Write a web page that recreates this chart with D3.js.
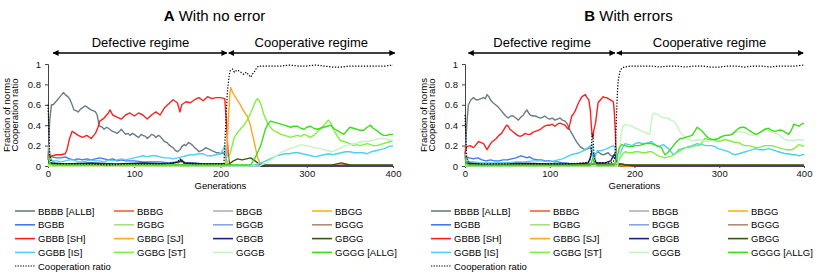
<!DOCTYPE html>
<html>
<head>
<meta charset="utf-8">
<script src="https://cdn.jsdelivr.net/npm/d3@7"></script>
<style>
  body { margin: 0; background: #fff; }
  svg { font-family: "Liberation Sans", Arial, sans-serif; }
</style>
</head>
<body>
<svg id="chart" width="830" height="277"></svg>
<script>
// norm names (legend order) and x ticks
const norms = ['BBBB [ALLB]', 'BBBG', 'BBGB', 'BBGG', 'BGBB', 'BGBG', 'BGGB', 'BGGG',
               'GBBB [SH]', 'GBBG [SJ]', 'GBGB', 'GBGG', 'GGBB [IS]', 'GGBG [ST]', 'GGGB', 'GGGG [ALLG]'];
const xTicks = [0, 100, 200, 300, 400];
const yTicks = [0, 0.2, 0.4, 0.6, 0.8, 1];

// --- Panel A: with no error  ([generation, fraction]) ---
const A_ALLB = [[0,.06],[2,.45],[4,.6],[6,.6],[10,.64],[13,.67],[16,.7],[18,.72],[20,.7],[23,.68],[25,.66],[28,.6],[30,.55],[33,.54],[35,.53],[38,.56],[40,.57],[43,.59],[45,.58],[48,.56],[50,.55],[53,.54],[55,.53],[57,.5],[59,.41],[60,.39],[63,.38],[65,.36],[68,.38],[70,.37],[73,.35],[75,.34],[78,.33],[80,.32],[83,.34],[85,.36],[88,.33],[90,.31],[93,.32],[95,.3],[98,.32],[100,.31],[103,.29],[105,.28],[108,.31],[110,.3],[113,.29],[115,.27],[118,.29],[120,.31],[123,.3],[125,.28],[128,.3],[130,.29],[133,.26],[135,.24],[138,.23],[140,.21],[143,.19],[145,.18],[148,.15],[150,.14],[153,.16],[155,.19],[158,.21],[160,.2],[163,.23],[165,.22],[168,.2],[170,.18],[173,.16],[175,.14],[178,.15],[180,.16],[183,.18],[185,.17],[188,.16],[190,.15],[193,.14],[195,.13],[198,.13],[200,.12],[203,.13],[205,.12],[207,.05],[209,.01],[212,0],[400,0]];
const A_BBBG = [[0,.02],[10,.005],[330,.005],[345,.015],[355,.005],[400,.005]];
const A_BBGB = [[0,.2],[2,.14],[4,.06],[8,.03],[20,.02],[200,.01],[210,0],[400,0]];
const A_BBGG = [[0,.02],[20,.01],[150,.02],[155,.05],[158,.02],[200,.01],[210,0],[400,0]];
const A_BGBB = [[0,.1],[5,.09],[10,.08],[15,.08],[20,.09],[25,.07],[30,.06],[35,.07],[40,.06],[45,.07],[50,.06],[55,.07],[60,.08],[65,.07],[70,.06],[75,.07],[80,.05],[85,.06],[90,.05],[100,.05],[110,.04],[120,.04],[130,.04],[140,.03],[150,.04],[155,.05],[160,.03],[170,.03],[180,.02],[205,.02],[210,0],[400,0]];
const A_BGBG = [[0,.02],[10,.005],[400,.005]];
const A_BGGB = [[0,.03],[10,.01],[205,.01],[210,0],[400,0]];
const A_BGGG = [[0,.01],[10,0],[400,0]];
const A_SH = [[0,.09],[5,.1],[10,.11],[15,.11],[20,.12],[22,.16],[25,.27],[28,.34],[30,.33],[35,.3],[40,.28],[45,.3],[50,.27],[55,.32],[58,.38],[60,.44],[65,.47],[70,.52],[72,.55],[75,.5],[80,.48],[85,.46],[90,.5],[95,.52],[100,.49],[105,.52],[110,.5],[115,.46],[120,.5],[125,.53],[130,.5],[135,.57],[140,.61],[145,.65],[150,.62],[153,.53],[155,.6],[160,.63],[165,.62],[170,.65],[175,.67],[180,.64],[185,.68],[190,.66],[195,.67],[200,.67],[205,.66],[207,.4],[209,.1],[211,.01],[215,0],[400,0]];
const A_SJ = [[0,0],[205,0],[207,.1],[209,.45],[211,.72],[212,.77],[214,.72],[217,.68],[220,.64],[223,.6],[226,.55],[229,.51],[231,.49],[234,.42],[237,.31],[239,.24],[241,.16],[243,.08],[246,.03],[250,.01],[255,0],[400,0]];
const A_GBGB = [[0,.03],[20,.02],[50,.03],[80,.02],[110,.03],[140,.02],[152,.04],[155,.06],[158,.03],[180,.02],[205,.02],[210,0],[400,0]];
const A_GBGG = [[0,.02],[10,.01],[205,0],[210,.02],[215,.05],[220,.07],[225,.06],[230,.07],[235,.08],[240,.05],[245,.02],[250,.01],[330,.01],[340,.03],[345,.02],[350,.01],[400,.01]];
const A_IS = [[0,.08],[5,.05],[10,.05],[15,.04],[20,.05],[25,.06],[30,.06],[35,.04],[40,.04],[45,.05],[50,.06],[55,.05],[60,.05],[65,.04],[70,.06],[75,.05],[80,.06],[85,.07],[90,.06],[95,.07],[100,.08],[105,.09],[110,.1],[115,.09],[120,.1],[125,.1],[130,.09],[135,.08],[140,.08],[145,.07],[150,.08],[155,.09],[160,.1],[165,.11],[170,.11],[175,.12],[180,.12],[185,.1],[190,.1],[195,.11],[200,.12],[203,.16],[205,.2],[207,.05],[210,0],[230,0],[240,.01],[250,.04],[255,.06],[260,.08],[265,.1],[270,.11],[275,.12],[280,.12],[285,.13],[290,.13],[295,.12],[300,.11],[305,.1],[310,.09],[315,.1],[320,.11],[325,.12],[330,.11],[335,.12],[340,.13],[345,.14],[350,.14],[355,.13],[360,.13],[365,.13],[370,.12],[375,.14],[380,.15],[385,.16],[390,.17],[395,.19],[400,.2]];
const A_ST = [[0,.02],[5,.01],[205,.01],[209,.05],[212,.15],[216,.28],[220,.33],[223,.36],[227,.4],[231,.45],[235,.52],[239,.6],[241,.64],[243,.66],[245,.64],[247,.6],[250,.51],[254,.43],[257,.39],[260,.36],[263,.34],[266,.33],[270,.31],[274,.3],[278,.29],[281,.28],[285,.29],[289,.3],[293,.29],[297,.31],[300,.3],[304,.28],[308,.3],[312,.33],[316,.37],[320,.4],[325,.45],[328,.42],[331,.36],[335,.3],[339,.25],[343,.24],[347,.23],[350,.22],[354,.2],[358,.21],[362,.2],[366,.21],[370,.22],[374,.21],[377,.2],[381,.2],[385,.21],[389,.22],[393,.23],[397,.24],[400,.25]];
const A_GGGB = [[0,0],[245,0],[250,.02],[255,.04],[260,.07],[265,.1],[270,.13],[275,.15],[280,.17],[285,.18],[290,.2],[295,.21],[300,.2],[305,.19],[310,.18],[315,.17],[320,.16],[325,.15],[330,.14],[335,.16],[340,.18],[345,.2],[350,.21],[355,.22],[360,.23],[365,.24],[370,.24],[375,.25],[380,.26],[385,.27],[390,.27],[395,.26],[400,.25]];
const A_ALLG = [[0,.1],[2,.03],[5,.01],[235,.01],[240,.08],[244,.15],[247,.21],[250,.3],[252,.36],[255,.41],[258,.44],[262,.43],[266,.42],[270,.41],[274,.4],[278,.39],[281,.38],[285,.39],[289,.39],[293,.37],[297,.36],[300,.38],[304,.39],[308,.37],[312,.36],[316,.37],[320,.38],[324,.39],[328,.4],[331,.37],[335,.35],[339,.33],[343,.31],[347,.35],[350,.38],[354,.37],[358,.36],[362,.35],[366,.35],[370,.38],[374,.4],[377,.37],[381,.35],[385,.32],[389,.3],[393,.3],[396,.31],[400,.31]];
const A_coop = [[0,.6],[1,.35],[2,.1],[4,.03],[10,.02],[30,.02],[50,.02],[70,.01],[90,.02],[110,.02],[130,.02],[145,.03],[150,.04],[153,.07],[156,.03],[170,.02],[190,.02],[204,.02],[206,.4],[208,.73],[210,.88],[211,.93],[214,.95],[216,.92],[219,.94],[222,.93],[225,.91],[227,.9],[230,.92],[233,.89],[235,.87],[237,.9],[239,.92],[241,.95],[244,.98],[250,.98],[260,.98],[270,.98],[280,.99],[290,.98],[300,.98],[310,.99],[320,.98],[330,.97],[340,.97],[350,.98],[360,.98],[370,.98],[380,.98],[390,.98],[400,.99]];

// --- Panel B: with errors ---
const B_ALLB = [[0,.08],[2,.4],[4,.6],[7,.65],[10,.67],[13,.65],[16,.65],[19,.66],[22,.67],[24,.66],[26,.7],[28,.68],[30,.65],[33,.62],[36,.6],[39,.58],[42,.55],[45,.52],[48,.49],[51,.47],[54,.49],[57,.49],[60,.47],[63,.45],[66,.48],[69,.5],[71,.53],[73,.55],[75,.52],[77,.5],[80,.49],[83,.49],[86,.48],[89,.47],[92,.48],[94,.49],[97,.47],[100,.46],[103,.47],[106,.45],[109,.46],[112,.47],[115,.45],[118,.44],[120,.42],[122,.39],[124,.35],[126,.32],[128,.29],[130,.26],[133,.22],[136,.19],[139,.17],[142,.16],[145,.17],[148,.18],[150,.14],[152,.11],[154,.12],[157,.14],[160,.12],[163,.11],[166,.12],[169,.13],[171,.11],[173,.1],[175,.09],[177,.08],[179,.04],[181,.01],[184,0],[400,0]];
const B_BBBG = [[0,.01],[400,.005]];
const B_BBGB = [[0,.12],[2,.08],[5,.04],[10,.02],[175,.01],[180,0],[400,0]];
const B_BBGG = [[0,.01],[140,.01],[150,.02],[175,.02],[180,.03],[185,.01],[400,.005]];
const B_BGBB = [[0,.09],[5,.08],[10,.07],[15,.08],[20,.06],[25,.05],[30,.06],[35,.05],[40,.05],[45,.06],[50,.06],[55,.07],[60,.08],[63,.09],[66,.1],[70,.09],[73,.08],[76,.09],[80,.07],[85,.06],[90,.06],[95,.05],[100,.05],[105,.04],[110,.04],[115,.03],[120,.03],[125,.02],[175,.02],[180,.01],[185,0],[400,0]];
const B_BGBG = [[0,.02],[10,.005],[400,.005]];
const B_BGGB = [[0,.03],[10,.01],[180,.01],[185,0],[400,0]];
const B_BGGG = [[0,.01],[10,0],[400,0]];
const B_SH = [[0,.12],[2,.19],[6,.2],[10,.18],[13,.21],[16,.24],[19,.23],[22,.22],[24,.19],[26,.16],[28,.19],[31,.23],[34,.25],[37,.27],[40,.3],[43,.32],[46,.36],[49,.4],[51,.39],[53,.36],[56,.34],[59,.32],[62,.3],[65,.29],[68,.3],[71,.32],[74,.31],[77,.31],[80,.33],[83,.34],[86,.35],[89,.36],[92,.38],[94,.39],[97,.4],[100,.4],[103,.41],[106,.39],[109,.41],[112,.42],[115,.41],[118,.4],[120,.38],[122,.36],[124,.42],[126,.49],[128,.51],[130,.54],[132,.58],[134,.62],[136,.65],[138,.68],[140,.69],[142,.7],[144,.67],[146,.65],[148,.54],[149,.4],[150,.3],[151,.28],[152,.35],[154,.42],[156,.55],[157,.62],[160,.65],[163,.68],[165,.67],[167,.67],[169,.66],[171,.65],[173,.64],[175,.63],[176,.55],[177,.4],[178,.2],[179,.08],[181,.02],[184,0],[400,0]];
const B_SJ = [[0,.01],[176,.01],[180,.03],[183,.01],[190,0],[400,0]];
const B_GBGB = [[0,.03],[20,.02],[60,.03],[100,.02],[130,.02],[145,.03],[148,.08],[150,.15],[152,.08],[155,.03],[165,.03],[172,.05],[175,.1],[177,.12],[179,.05],[182,.02],[190,.01],[200,0],[400,0]];
const B_GBGG = [[0,.01],[180,.01],[185,.02],[190,.01],[400,.01]];
const B_IS = [[0,.05],[5,.04],[10,.04],[20,.03],[30,.03],[40,.03],[50,.03],[60,.04],[70,.04],[80,.05],[90,.05],[100,.04],[105,.05],[110,.06],[115,.07],[120,.09],[125,.11],[130,.12],[135,.13],[140,.15],[145,.18],[148,.2],[150,.21],[151,.1],[152,.04],[154,.1],[156,.15],[160,.15],[165,.16],[170,.18],[175,.2],[177,.18],[179,.08],[181,.05],[183,.12],[186,.18],[189,.22],[193,.21],[197,.2],[201,.22],[205,.23],[209,.22],[213,.22],[217,.23],[220,.24],[224,.21],[228,.19],[231,.2],[234,.21],[237,.19],[240,.17],[243,.14],[246,.11],[249,.13],[252,.16],[256,.17],[260,.18],[264,.19],[268,.2],[271,.21],[274,.22],[277,.21],[280,.21],[284,.2],[287,.2],[291,.2],[295,.19],[299,.17],[303,.16],[307,.15],[311,.14],[315,.12],[319,.11],[323,.12],[327,.13],[331,.14],[335,.15],[339,.16],[343,.17],[347,.16],[350,.16],[354,.16],[358,.17],[362,.16],[366,.15],[370,.14],[374,.13],[378,.12],[382,.12],[386,.11],[390,.11],[394,.1],[398,.11],[400,.11]];
const B_ST = [[0,.02],[5,.005],[176,.005],[180,.03],[183,.08],[186,.12],[189,.14],[193,.13],[197,.13],[201,.14],[205,.14],[209,.13],[213,.13],[217,.14],[220,.14],[224,.12],[228,.1],[232,.09],[236,.08],[240,.09],[244,.1],[248,.12],[252,.14],[256,.16],[260,.18],[264,.18],[268,.19],[272,.2],[276,.2],[280,.23],[283,.27],[287,.26],[291,.26],[295,.25],[299,.24],[303,.25],[307,.26],[311,.25],[315,.24],[319,.23],[323,.23],[327,.21],[331,.2],[335,.2],[339,.19],[343,.18],[346,.18],[350,.19],[354,.2],[358,.2],[362,.2],[366,.19],[370,.18],[374,.17],[378,.16],[382,.16],[386,.16],[390,.18],[394,.21],[398,.2],[400,.19]];
const B_GGGB = [[0,0],[180,0],[182,.1],[184,.3],[186,.38],[189,.41],[193,.4],[197,.39],[201,.37],[205,.36],[209,.34],[213,.33],[216,.31],[218,.31],[221,.5],[224,.52],[228,.5],[232,.48],[236,.47],[240,.47],[243,.45],[246,.44],[250,.4],[254,.33],[257,.3],[260,.28],[264,.26],[268,.25],[272,.25],[276,.26],[280,.25],[283,.24],[287,.24],[291,.25],[295,.26],[299,.27],[303,.28],[307,.3],[311,.31],[315,.31],[319,.33],[323,.34],[327,.33],[331,.33],[335,.31],[339,.3],[343,.31],[346,.31],[350,.34],[354,.37],[358,.35],[362,.33],[366,.32],[370,.31],[374,.28],[378,.26],[382,.25],[386,.25],[390,.25],[394,.26],[398,.25],[400,.25]];
const B_ALLG = [[0,.08],[2,.02],[5,.005],[148,.005],[151,.08],[153,.02],[156,.005],[176,.005],[178,.05],[180,.1],[182,.18],[185,.21],[189,.2],[193,.19],[197,.19],[201,.2],[205,.2],[209,.21],[213,.22],[217,.22],[220,.22],[223,.21],[226,.2],[229,.19],[232,.18],[234,.14],[236,.11],[239,.13],[242,.16],[245,.19],[248,.22],[251,.25],[254,.27],[257,.27],[260,.28],[264,.29],[268,.3],[271,.34],[274,.38],[277,.36],[280,.34],[283,.31],[285,.29],[288,.27],[291,.26],[295,.26],[299,.27],[303,.29],[307,.3],[311,.3],[315,.31],[319,.34],[323,.37],[326,.38],[329,.38],[332,.37],[335,.35],[339,.33],[343,.31],[346,.32],[350,.34],[354,.36],[358,.37],[362,.35],[366,.34],[370,.35],[374,.35],[378,.33],[382,.31],[385,.35],[388,.41],[391,.4],[394,.39],[397,.41],[400,.42]];
const B_coop = [[0,.5],[1,.3],[2,.08],[4,.03],[20,.02],[40,.02],[60,.02],[80,.02],[100,.02],[120,.02],[140,.03],[147,.04],[149,.15],[150,.32],[151,.3],[152,.12],[154,.03],[170,.03],[175,.04],[177,.1],[178,.3],[179,.55],[180,.75],[181,.85],[183,.93],[185,.96],[188,.97],[195,.98],[210,.98],[220,.98],[230,.97],[240,.98],[250,.98],[260,.97],[270,.98],[280,.98],[290,.97],[300,.97],[310,.98],[320,.98],[330,.97],[340,.98],[350,.98],[360,.97],[370,.98],[380,.98],[390,.98],[400,.99]];

// regime arrows: [start, boundary, end] in generations
const regimeA = [6, 208.5, 402];
const regimeB = [4, 178, 399];

const normColors = ['#6b7c85', '#f4603a', '#a9b4b8', '#ffb11b', '#4176f5', '#a8e080', '#86a6e0', '#b58a74',
                    '#ff2020', '#ffa726', '#1a237e', '#335a10', '#4fd0f7', '#80f040', '#c5f5c0', '#3ddc1f'];

const panels = [
  { letter: 'A', title: ' With no error', left: 48, right: 393, regime: regimeA,
    series: [A_ALLB, A_BBBG, A_BBGB, A_BBGG, A_BGBB, A_BGBG, A_BGGB, A_BGGG, A_SH, A_SJ, A_GBGB, A_GBGG, A_IS, A_ST, A_GGGB, A_ALLG],
    coop: A_coop, legendX: 15 },
  { letter: 'B', title: ' With errors', left: 465, right: 804, regime: regimeB,
    series: [B_ALLB, B_BBBG, B_BBGB, B_BBGG, B_BGBB, B_BGBG, B_BGGB, B_BGGG, B_SH, B_SJ, B_GBGB, B_GBGG, B_IS, B_ST, B_GGGB, B_ALLG],
    coop: B_coop, legendX: 431 }
];

const svg = d3.select('#chart');
const plotTop = 64, plotBottom = 166;

svg.append('defs').append('marker')
  .attr('id', 'arrowhead')
  .attr('viewBox', '0 0 10 10').attr('refX', 9).attr('refY', 5)
  .attr('markerWidth', 6).attr('markerHeight', 6)
  .attr('markerUnits', 'userSpaceOnUse')
  .attr('orient', 'auto-start-reverse')
  .append('path').attr('d', 'M0,0 L10,5 L0,10 z').attr('fill', '#000');

panels.forEach(p => {
  const x = d3.scaleLinear().domain([0, 400]).range([p.left, p.right]);
  const y = d3.scaleLinear().domain([0, 1]).range([plotBottom, plotTop]);
  const g = svg.append('g');
  const mid = (p.left + p.right) / 2;

  // title
  const t = g.append('text').attr('x', mid - 6).attr('y', 21)
    .attr('text-anchor', 'middle').attr('font-size', 15);
  t.append('tspan').attr('font-weight', 'bold').text(p.letter);
  t.append('tspan').text(p.title);

  // regime arrows
  const [r0, r1, r2] = p.regime;
  [[r0, r1, 'Defective regime'], [r1, r2, 'Cooperative regime']].forEach(([a, b, lbl], i) => {
    g.append('line')
      .attr('x1', x(a) + (i ? 1 : 0)).attr('x2', x(b) - (i ? 0 : 1))
      .attr('y1', 53).attr('y2', 53)
      .attr('stroke', '#000').attr('stroke-width', 1.4)
      .attr('marker-start', 'url(#arrowhead)').attr('marker-end', 'url(#arrowhead)');
    g.append('text').attr('x', (x(a) + x(b)) / 2).attr('y', 47)
      .attr('text-anchor', 'middle').attr('font-size', 13).text(lbl);
  });

  // axes
  const yAxis = g.append('g').attr('transform', `translate(${p.left},0)`)
    .call(d3.axisLeft(y).tickValues(yTicks).tickFormat(d3.format('~g')).tickSize(3).tickPadding(4));
  const xAxis = g.append('g').attr('transform', `translate(0,${plotBottom})`)
    .call(d3.axisBottom(x).tickValues(xTicks).tickSize(2).tickPadding(2));
  [yAxis, xAxis].forEach(a => {
    a.select('.domain').attr('stroke', '#444');
    a.selectAll('.tick line').attr('stroke', '#444');
    a.selectAll('text').attr('font-size', 9.5).attr('fill', '#111')
      .attr('font-family', '"Liberation Sans", Arial, sans-serif');
  });

  g.append('text').attr('x', mid).attr('y', 189).attr('text-anchor', 'middle')
    .attr('font-size', 9.5).text('Generations');
  ['Fraction of norms', 'Cooperation ratio'].forEach((s, i) => {
    g.append('text')
      .attr('transform', `translate(${p.left - 38 + i * 8},${(plotTop + plotBottom) / 2}) rotate(-90)`)
      .attr('text-anchor', 'middle').attr('font-size', 9.5).text(s);
  });

  // lines
  const line = d3.line().x(d => x(d[0])).y(d => y(d[1]));
  p.series.forEach((s, i) => {
    g.append('path').datum(s).attr('d', line)
      .attr('fill', 'none').attr('stroke', normColors[i]).attr('stroke-width', 1.4)
      .attr('stroke-linejoin', 'round');
  });
  g.append('path').datum(p.coop).attr('d', line)
    .attr('fill', 'none').attr('stroke', '#000').attr('stroke-width', 1.2)
    .attr('stroke-dasharray', '1.3,1.6');

  // legend: 4 columns x 4 rows, then cooperation ratio
  const leg = g.append('g').attr('transform', `translate(${p.legendX},0)`);
  norms.forEach((n, i) => {
    const cx = (i % 4) * 99, cy = 211 + Math.floor(i / 4) * 13.8;
    leg.append('line').attr('x1', cx).attr('x2', cx + 20).attr('y1', cy).attr('y2', cy)
      .attr('stroke', normColors[i]).attr('stroke-width', 1.6);
    leg.append('text').attr('x', cx + 23).attr('y', cy + 3.5).attr('font-size', 9.5).text(n);
  });
  leg.append('line').attr('x1', 0).attr('x2', 20).attr('y1', 266).attr('y2', 266)
    .attr('stroke', '#000').attr('stroke-width', 1.1).attr('stroke-dasharray', '1.3,1.3');
  leg.append('text').attr('x', 23).attr('y', 269.5).attr('font-size', 9.5).text('Cooperation ratio');
});
</script>
</body>
</html>
